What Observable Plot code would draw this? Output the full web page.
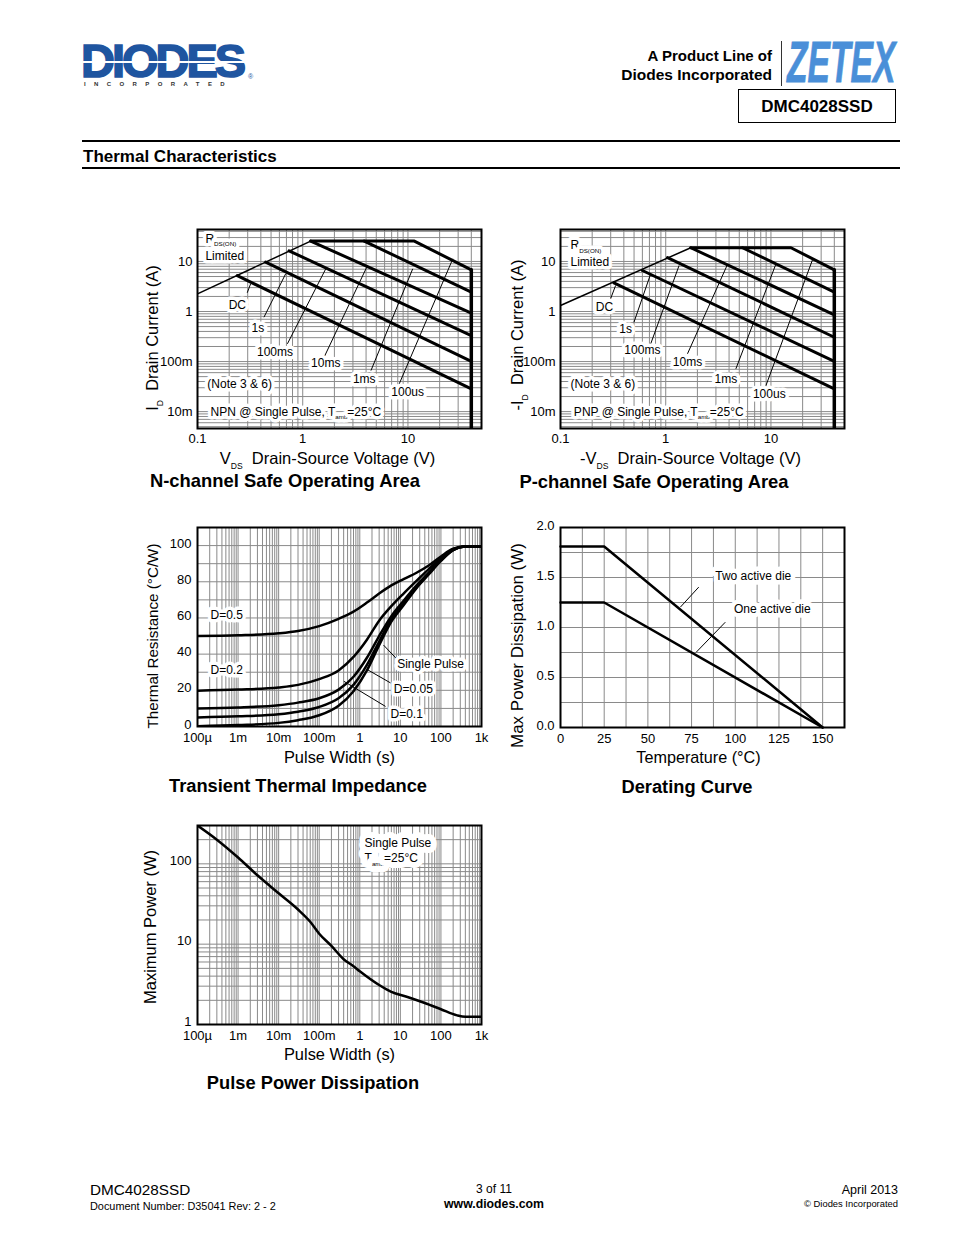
<!DOCTYPE html>
<html><head><meta charset="utf-8">
<script src="https://cdn.jsdelivr.net/npm/d3@7"></script>
<script src="https://cdn.jsdelivr.net/npm/@observablehq/plot@0.6"></script>
<style>
body{margin:0;background:#fff;font-family:"Liberation Sans",Arial,sans-serif;color:#000;}
#page{position:relative;width:954px;height:1235px;overflow:hidden;background:#fff;}
.abs{position:absolute;white-space:nowrap;}
.abs svg{display:block;overflow:visible;}
.logo{text-box:trim-both cap alphabetic;}
</style></head><body><div id="page"></div>
<script>
// ---------------- DATA ----------------
// Safe operating area axes
const soaXDomain = [0.1, 50];
const soaYDomain = [0.0046, 43.5];
const soaXTicks = [0.1, 1, 10];
const soaXTickLabels = ["0.1", "1", "10"];
const soaYTicks = [0.01, 0.1, 1, 10];
const soaYTickLabels = ["10m", "100m", "1", "10"];

// N-channel SOA lines [VDS, ID]
const nRdsLine = [[0.1, 2.25], [1.19, 25.5]];
const n100us = [[1.19, 25.5], [11.5, 25.5], [40, 6.8]];
const n1ms = [[3.84, 25.5], [40, 2.43]];
const n10ms = [[1.19, 25.5], [40, 0.925]];
const n100ms = [[0.741, 16.3], [40, 0.331]];
const n1s = [[0.444, 9.7], [40, 0.101]];
const nDC = [[0.239, 5.2], [40, 0.0284]];
const nBvLine = [[40, 0.0046], [40, 6.8]];
const nLabels = [
  {t: "R_{DS(ON)}", v: 0.119, i: 28.4, a: "start"},
  {t: "Limited", v: 0.119, i: 12.8, a: "start"},
  {t: "DC", v: 0.239, i: 1.32, a: "middle"},
  {t: "1s", v: 0.375, i: 0.463, a: "middle"},
  {t: "100ms", v: 0.545, i: 0.153, a: "middle"},
  {t: "10ms", v: 1.656, i: 0.0925, a: "middle"},
  {t: "1ms", v: 3.84, i: 0.0437, a: "middle"},
  {t: "100us", v: 9.93, i: 0.0243, a: "middle"},
  {t: "(Note 3 & 6)", v: 0.124, i: 0.0358, a: "start"},
  {t: "NPN @ Single Pulse, T_{amb}=25°C", v: 0.133, i: 0.00994, a: "start"}
];
const nLeaders = [
  {v1: 0.297, i1: 2.37, v2: 0.320, i2: 3.58},
  {v1: 0.428, i1: 0.769, v2: 0.689, i2: 5.68},
  {v1: 0.715, i1: 0.226, v2: 1.656, i2: 7.14},
  {v1: 1.596, i1: 0.122, v2: 4.13, i2: 8.32},
  {v1: 4.45, i1: 0.066, v2: 11.1, i2: 7.14},
  {v1: 8.26, i1: 0.0358, v2: 26.7, i2: 11.3}
];

// P-channel SOA lines [-VDS, -ID]
const pRdsLine = [[0.1, 1.32], [1.73, 18.8]];
const p100us = [[1.73, 18.8], [15.5, 18.8], [40, 6.8]];
const p1ms = [[5.37, 18.8], [40, 2.43]];
const p10ms = [[1.73, 18.8], [40, 0.86]];
const p100ms = [[1.04, 11.9], [40, 0.306]];
const p1s = [[0.6, 6.6], [40, 0.101]];
const pDC = [[0.322, 3.75], [40, 0.0284]];
const pBvLine = [[40, 0.0046], [40, 6.8]];
const pLabels = [
  {t: "R_{DS(ON)}", v: 0.1245, i: 20.9, a: "start"},
  {t: "Limited", v: 0.1245, i: 9.7, a: "start"},
  {t: "DC", v: 0.262, i: 1.2, a: "middle"},
  {t: "1s", v: 0.416, i: 0.451, a: "middle"},
  {t: "100ms", v: 0.6, i: 0.166, a: "middle"},
  {t: "10ms", v: 1.61, i: 0.0968, a: "middle"},
  {t: "1ms", v: 3.73, i: 0.0451, a: "middle"},
  {t: "100us", v: 9.64, i: 0.0226, a: "middle"},
  {t: "(Note 3 & 6)", v: 0.1245, i: 0.0358, a: "start"},
  {t: "PNP @ Single Pulse, T_{amb}=25°C", v: 0.134, i: 0.00994, a: "start"}
];
const pLeaders = [
  {v1: 0.299, i1: 1.79, v2: 0.334, i2: 3.31},
  {v1: 0.499, i1: 0.611, v2: 0.72, i2: 5.68},
  {v1: 0.72, i1: 0.226, v2: 1.34, i2: 8.32},
  {v1: 1.61, i1: 0.143, v2: 3.87, i2: 8.79},
  {v1: 4.64, i1: 0.0715, v2: 11.2, i2: 9.12},
  {v1: 8.96, i1: 0.0331, v2: 25.1, i2: 11.5}
];

// Pulse-width axis (shared by thermal impedance and pulse power)
const pwDomain = [1e-4, 1e3];
const pwTicks = [1e-4, 1e-3, 1e-2, 1e-1, 1, 10, 100, 1000];
const pwTickLabels = ["100µ", "1m", "10m", "100m", "1", "10", "100", "1k"];

// Transient thermal impedance (°C/W)
const thermYDomain = [0, 110];
const thermYTicks = [0, 20, 40, 60, 80, 100];
const thermYGrid = [10, 20, 30, 40, 50, 60, 70, 80, 90, 100];
const thermT = [1e-4, 1e-3, 1e-2, 0.03, 0.1, 0.3, 0.7, 1.5, 3, 6, 12, 25, 50, 100, 200, 400, 1000];
const zSingle = [0.2, 0.8, 2.0, 3.5, 6.2, 11.5, 19.5, 31, 45, 58, 67, 76.5, 84, 91.5, 97.5, 99.5, 99.5];
const zD005 = [5.0, 5.6, 6.8, 8.2, 10.8, 15.6, 23, 34, 47, 59.5, 68, 77, 84.5, 92, 97.5, 99.5, 99.5];
const zD01 = [10, 10.5, 11.8, 13.2, 15.6, 20.4, 27.5, 38, 50, 61, 69.5, 78, 85, 92.3, 97.7, 99.5, 99.5];
const zD02 = [19.8, 20.4, 21.6, 23, 26.2, 31, 38.5, 48, 58.5, 66.5, 73.5, 80.5, 87, 93, 98, 99.5, 99.5];
const zD05 = [50, 50.4, 51.5, 52.8, 55.5, 59.5, 63.5, 68.5, 73.5, 78, 81.5, 85, 89, 94, 98.3, 99.5, 99.5];
const thermLabels = [
  {t: "D=0.5", x: 2.09e-4, y: 61.7},
  {t: "D=0.2", x: 2.09e-4, y: 30.9},
  {t: "Single Pulse", x: 8.36, y: 34.3},
  {t: "D=0.05", x: 6.9, y: 20.4},
  {t: "D=0.1", x: 5.71, y: 6.8}
];
const thermLeaders = [
  {x1: 8.0, y1: 37.5, x2: 3.85, y2: 45},
  {x1: 5.72, y1: 24.1, x2: 1.52, y2: 31.5},
  {x1: 4.3, y1: 11.1, x2: 0.404, y2: 25}
];

// Derating curve
const derXDomain = [0, 162.5];
const derYDomain = [0, 2];
const derXTicks = [0, 25, 50, 75, 100, 125, 150];
const derYTicks = [0, 0.5, 1.0, 1.5, 2.0];
const derYTickLabels = ["0.0", "0.5", "1.0", "1.5", "2.0"];
const derXGrid = [12.5, 25, 37.5, 50, 62.5, 75, 87.5, 100, 112.5, 125, 137.5, 150];
const derYGrid = [0.25, 0.5, 0.75, 1.0, 1.25, 1.5, 1.75];
const derTemp = [0, 25, 150];
const twoDieP = [1.81, 1.81, 0];
const oneDieP = [1.25, 1.25, 0];
const derLabels = [
  {t: "Two active die", x: 110.3, y: 1.51},
  {t: "One active die", x: 121.2, y: 1.18}
];
const derLeaders = [
  {x1: 79.1, y1: 1.404, x2: 68.6, y2: 1.204},
  {x1: 94.3, y1: 1.053, x2: 77.6, y2: 0.752}
];

// Pulse power dissipation
const ppYDomain = [1, 300];
const ppYTicks = [1, 10, 100];
const ppYTickLabels = ["1", "10", "100"];
const pulseT = [1e-4, 3e-4, 1e-3, 3e-3, 0.01, 0.03, 0.06, 0.1, 0.2, 0.4, 0.7, 1, 3, 6, 15, 40, 100, 250, 400, 1000];
const pulseP = [300, 200, 120, 72, 43, 27, 19, 13.5, 9.5, 6.5, 5.3, 4.6, 3.1, 2.55, 2.2, 1.85, 1.55, 1.3, 1.25, 1.25];
const ppLabels = [
  {t: "Single Pulse", x: 1.31, y: 181},
  {t: "T_{amb}=25°C", x: 1.31, y: 118}
];

// ---------------- HELPERS ----------------
const FONT = '"Liberation Sans", Arial, Helvetica, sans-serif';
const GRID = "#8a8a8a";
const page = document.getElementById("page");

function txt(html, x, y, o = {}) {
  const d = document.createElement("div");
  d.className = "abs" + (o.cls ? " " + o.cls : "");
  d.innerHTML = html;
  const s = d.style;
  s.left = x + "px"; s.top = y + "px";
  s.fontSize = (o.size || 12) + "px";
  s.fontWeight = o.weight || "normal";
  s.lineHeight = o.lh || "1";
  if (o.color) s.color = o.color;
  if (o.family) s.fontFamily = o.family;
  if (o.ls) s.letterSpacing = o.ls;
  if (o.style) s.fontStyle = o.style;
  const tx = o.anchor === "middle" ? "-50%" : o.anchor === "end" ? "-100%" : "0";
  s.transformOrigin = o.origin || "center center";
  s.transform = `translate(${tx},-50%)` + (o.extra || "");
  if (o.css) Object.assign(s, o.css);
  page.appendChild(d);
  return d;
}
function box(x, y, w, h, css) {
  const d = document.createElement("div");
  d.className = "abs";
  Object.assign(d.style, {left: x + "px", top: y + "px", width: w + "px", height: h + "px", boxSizing: "border-box"}, css);
  page.appendChild(d);
  return d;
}
function subs(svg) {
  d3.select(svg).selectAll("text").each(function () {
    const s = this.textContent;
    if (!s || s.indexOf("_{") < 0) return;
    const fs = parseFloat(getComputedStyle(this).fontSize) || 12;
    const subSize = fs * 0.52, shift = fs * 0.32;
    const parts = s.split(/_\{([^}]*)\}/);
    while (this.firstChild) this.removeChild(this.firstChild);
    let shifted = false;
    parts.forEach((p, i) => {
      if (!p) return;
      const ts = document.createElementNS("http://www.w3.org/2000/svg", "tspan");
      if (i % 2 === 1) { ts.setAttribute("font-size", subSize); ts.setAttribute("dy", shift); shifted = true; }
      else if (shifted) { ts.setAttribute("dy", -shift); shifted = false; }
      ts.textContent = p;
      this.appendChild(ts);
    });
  });
}
function place(svg, left, top) {
  const w = document.createElement("div");
  w.className = "abs";
  w.style.left = left + "px"; w.style.top = top + "px";
  w.appendChild(svg);
  page.appendChild(w);
  subs(svg);
}
function logGrid(lo, hi) {
  const v = [];
  for (let e = -5; e <= 4; e++) for (let m = 1; m <= 9; m++) {
    const x = +(m * Math.pow(10, e)).toPrecision(3);
    if (x > lo * 1.0001 && x < hi * 0.9999) v.push(x);
  }
  return v;
}
const fmt = (ticks, labels) => d => labels[ticks.indexOf(d)];
const plotStyle = {fontFamily: FONT, fontSize: "13px", background: "transparent", color: "black", overflow: "visible"};
const halo = {fill: "black", stroke: "white", strokeWidth: 7, fontSize: 12};
const yTitle = (label, dx, dy, size) => Plot.text([label], {text: d => d, frameAnchor: "left", textAnchor: "middle", lineAnchor: "middle", rotate: -90, dx, dy, fontSize: size});
const xTitle = (label, dx, dy, size) => Plot.text([label], {text: d => d, frameAnchor: "bottom", textAnchor: "middle", lineAnchor: "middle", dx, dy, fontSize: size});

// ---------------- SOA CHART ----------------
function soaPlot(cfg) {
  const thick = {x: d => d[0], y: d => d[1], stroke: "black", strokeWidth: 3, clip: true};
  return Plot.plot({
    width: 364, height: 254, marginLeft: 70, marginRight: 10, marginTop: 10, marginBottom: 45,
    style: plotStyle,
    x: {type: "log", domain: soaXDomain},
    y: {type: "log", domain: soaYDomain},
    marks: [
      Plot.ruleX(logGrid(soaXDomain[0], soaXDomain[1]), {stroke: GRID, strokeWidth: 1}),
      Plot.ruleY(logGrid(soaYDomain[0], soaYDomain[1]), {stroke: GRID, strokeWidth: 1}),
      Plot.line(cfg.rds, {x: d => d[0], y: d => d[1], stroke: "black", strokeWidth: 1.5, clip: true}),
      ...cfg.lines.map(l => Plot.line(l, thick)),
      Plot.line(cfg.bv, {...thick, strokeWidth: 3.5}),
      Plot.link(cfg.leaders, {x1: "v1", y1: "i1", x2: "v2", y2: "i2", stroke: "black", strokeWidth: 1}),
      Plot.text(cfg.labels.filter(d => d.a === "start"), {x: "v", y: "i", text: "t", textAnchor: "start", ...halo}),
      Plot.text(cfg.labels.filter(d => d.a === "middle"), {x: "v", y: "i", text: "t", textAnchor: "middle", ...halo}),
      Plot.frame({stroke: "black", strokeWidth: 2}),
      Plot.axisX({ticks: soaXTicks, tickFormat: fmt(soaXTicks, soaXTickLabels), tickSize: 0, tickPadding: 5, label: null}),
      Plot.axisY({ticks: soaYTicks, tickFormat: fmt(soaYTicks, soaYTickLabels), tickSize: 0, tickPadding: 5, label: null}),
      yTitle(cfg.yLabel, cfg.ydx, cfg.ydy, 16.5),
      xTitle(cfg.xLabel, -12, 30, 16.5)
    ]
  });
}

// ---------------- PAGE ----------------
// Header
txt("DIODES", 81, 61, {size: 47, weight: "bold", color: "#1f55a0", ls: "-3px", lh: "0.7", cls: "logo", css: {webkitTextStroke: "1.6px #1f55a0"}});
box(83, 61, 168, 2, {background: "#fff"});
txt("®", 248, 76, {size: 7, color: "#1f55a0"});
txt("INCORPORATED", 84, 83.5, {size: 6, weight: "bold", color: "#333", ls: "8.4px"});
txt("A Product Line of", 772, 55, {size: 15, weight: "bold", anchor: "end"});
txt("Diodes Incorporated", 772, 75, {size: 15.5, weight: "bold", anchor: "end"});
box(781, 41, 1, 45, {background: "#333"});
txt("ZETEX", 787, 62, {size: 57, weight: "bold", style: "italic", color: "#4a8fd8", origin: "left center", extra: " scaleX(0.59)", css: {webkitTextStroke: "0.8px #4a8fd8"}});
box(738, 89, 158, 34, {border: "1.5px solid #000"});
txt("DMC4028SSD", 817, 106, {size: 17, weight: "bold", anchor: "middle"});
box(82, 140, 818, 2, {background: "#000"});
txt("Thermal Characteristics", 83, 155.5, {size: 17, weight: "bold"});
box(82, 167, 818, 2, {background: "#000"});

// N-channel SOA
place(soaPlot({
  rds: nRdsLine, lines: [n100us, n1ms, n10ms, n100ms, n1s, nDC], bv: nBvLine,
  labels: nLabels, leaders: nLeaders,
  yLabel: "I_{D}\u00a0\u00a0Drain Current (A)", ydx: -45, ydy: 9,
  xLabel: "V_{DS}\u00a0\u00a0Drain-Source Voltage (V)"
}), 127, 219);
txt("N-channel Safe Operating Area", 285, 481, {size: 18.4, weight: "bold", anchor: "middle"});

// P-channel SOA
place(soaPlot({
  rds: pRdsLine, lines: [p100us, p1ms, p10ms, p100ms, p1s, pDC], bv: pBvLine,
  labels: pLabels, leaders: pLeaders,
  yLabel: "-I_{D}\u00a0\u00a0Drain Current (A)", ydx: -43, ydy: 6,
  xLabel: "-V_{DS}\u00a0\u00a0Drain-Source Voltage (V)"
}), 490, 219);
txt("P-channel Safe Operating Area", 654, 482, {size: 18.4, weight: "bold", anchor: "middle"});

// Transient thermal impedance
const thermCurves = [zD05, zD02, zD01, zD005, zSingle];
place(Plot.plot({
  width: 364, height: 254, marginLeft: 70, marginRight: 10, marginTop: 10, marginBottom: 45,
  style: plotStyle,
  x: {type: "log", domain: pwDomain},
  y: {domain: thermYDomain},
  marks: [
    Plot.ruleX(logGrid(pwDomain[0], pwDomain[1]), {stroke: GRID, strokeWidth: 1}),
    Plot.ruleY(thermYGrid, {stroke: GRID, strokeWidth: 1}),
    ...thermCurves.map(c => Plot.line(thermT, {x: d => d, y: (d, i) => c[i], stroke: "black", strokeWidth: 2.5, curve: "monotone-x", clip: true})),
    Plot.link(thermLeaders, {x1: "x1", y1: "y1", x2: "x2", y2: "y2", stroke: "black", strokeWidth: 1}),
    Plot.text(thermLabels, {x: "x", y: "y", text: "t", textAnchor: "start", ...halo}),
    Plot.frame({stroke: "black", strokeWidth: 2}),
    Plot.axisX({ticks: pwTicks, tickFormat: fmt(pwTicks, pwTickLabels), tickSize: 0, tickPadding: 6, label: null}),
    Plot.axisY({ticks: thermYTicks, tickSize: 0, tickPadding: 6, dy: -2, label: null}),
    yTitle("Thermal Resistance (°C/W)", -44, 9, 15.2),
    xTitle("Pulse Width (s)", 0, 31, 16.4)
  ]
}), 127, 517);
txt("Transient Thermal Impedance", 298, 786, {size: 18.3, weight: "bold", anchor: "middle"});

// Derating curve
place(Plot.plot({
  width: 364, height: 255, marginLeft: 70, marginRight: 10, marginTop: 10, marginBottom: 45,
  style: plotStyle,
  x: {domain: derXDomain},
  y: {domain: derYDomain},
  marks: [
    Plot.ruleX(derXGrid, {stroke: GRID, strokeWidth: 1}),
    Plot.ruleY(derYGrid, {stroke: GRID, strokeWidth: 1}),
    Plot.line(derTemp, {x: d => d, y: (d, i) => twoDieP[i], stroke: "black", strokeWidth: 2.5}),
    Plot.line(derTemp, {x: d => d, y: (d, i) => oneDieP[i], stroke: "black", strokeWidth: 2.5}),
    Plot.link(derLeaders, {x1: "x1", y1: "y1", x2: "x2", y2: "y2", stroke: "black", strokeWidth: 1}),
    Plot.text(derLabels, {x: "x", y: "y", text: "t", textAnchor: "middle", ...halo, strokeWidth: 9}),
    Plot.frame({stroke: "black", strokeWidth: 2}),
    Plot.axisX({ticks: derXTicks, tickSize: 0, tickPadding: 6, label: null}),
    Plot.axisY({ticks: derYTicks, tickFormat: fmt(derYTicks, derYTickLabels), tickSize: 0, tickPadding: 6, dy: -2, label: null}),
    yTitle("Max Power Dissipation (W)", -43, 18, 17),
    xTitle("Temperature (°C)", -4, 30, 16.2)
  ]
}), 490, 517);
txt("Derating Curve", 687, 787, {size: 18.3, weight: "bold", anchor: "middle"});

// Pulse power dissipation
place(Plot.plot({
  width: 364, height: 254, marginLeft: 70, marginRight: 10, marginTop: 10, marginBottom: 45,
  style: plotStyle,
  x: {type: "log", domain: pwDomain},
  y: {type: "log", domain: ppYDomain},
  marks: [
    Plot.ruleX(logGrid(pwDomain[0], pwDomain[1]), {stroke: GRID, strokeWidth: 1}),
    Plot.ruleY(logGrid(ppYDomain[0], ppYDomain[1]), {stroke: GRID, strokeWidth: 1}),
    Plot.text(ppLabels, {x: "x", y: "y", text: "t", textAnchor: "start", ...halo, strokeWidth: 12}),
    Plot.line(pulseT, {x: d => d, y: (d, i) => pulseP[i], stroke: "black", strokeWidth: 2.5, curve: "monotone-x", clip: true}),
    Plot.frame({stroke: "black", strokeWidth: 2}),
    Plot.axisX({ticks: pwTicks, tickFormat: fmt(pwTicks, pwTickLabels), tickSize: 0, tickPadding: 6, label: null}),
    Plot.axisY({ticks: ppYTicks, tickFormat: fmt(ppYTicks, ppYTickLabels), tickSize: 0, tickPadding: 6, dy: -3, label: null}),
    yTitle("Maximum Power (W)", -47, 2, 16.5),
    xTitle("Pulse Width (s)", 0, 30, 16.4)
  ]
}), 127, 815);
txt("Pulse Power Dissipation", 313, 1083, {size: 18.3, weight: "bold", anchor: "middle"});

// Footer
txt("DMC4028SSD", 90, 1190, {size: 15.3});
txt("Document Number: D35041 Rev: 2 - 2", 90, 1206, {size: 10.9});
txt("3 of 11", 494, 1189, {size: 12, anchor: "middle"});
txt("www.diodes.com", 494, 1204, {size: 12.3, weight: "bold", anchor: "middle"});
txt("April 2013", 898, 1190, {size: 12.5, anchor: "end"});
txt("© Diodes Incorporated", 898, 1204, {size: 9.4, anchor: "end"});
</script></body></html>
